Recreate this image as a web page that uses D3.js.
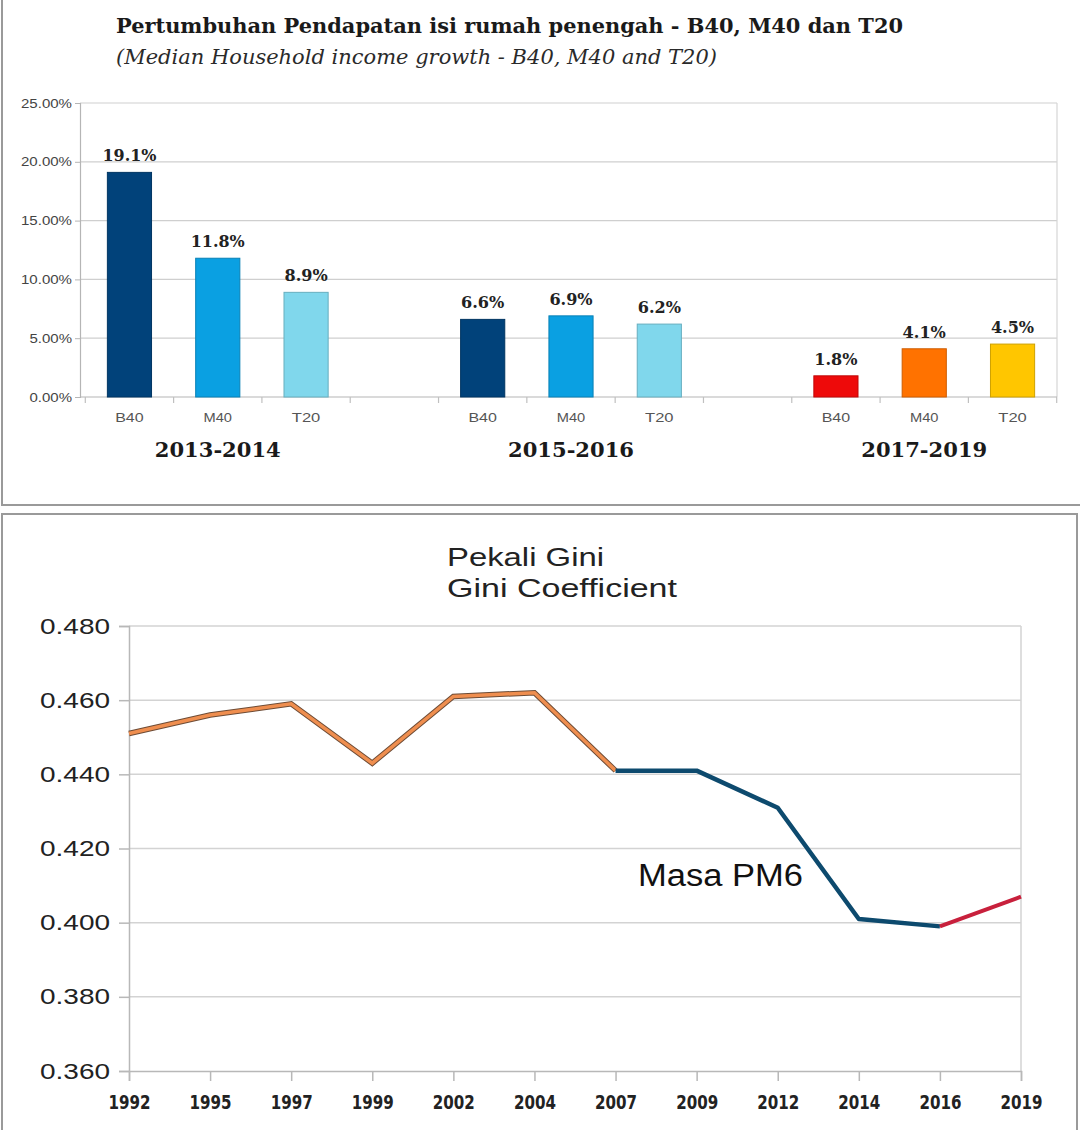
<!DOCTYPE html>
<html>
<head>
<meta charset="utf-8">
<script src="https://cdn.jsdelivr.net/npm/d3@7"></script>
<style>
  body { margin: 0; background: #fff; }
  svg { display: block; }
</style>
</head>
<body>
<svg id="chart" width="1080" height="1130"></svg>
<script>
// ---- data: household income growth (%) ----
var groups = ["B40", "M40", "T20"];
var periods = ["2013-2014", "2015-2016", "2017-2019"];
var growth20132014 = [19.1, 11.8, 8.9];
var growth20152016 = [6.6, 6.9, 6.2];
var growth20172019 = [1.8, 4.1, 4.5];
var growthTicks = [0, 5, 10, 15, 20, 25];

// ---- data: gini coefficient ----
var giniYears = ["1992", "1995", "1997", "1999", "2002", "2004", "2007", "2009", "2012", "2014", "2016", "2019"];
var giniValues = [0.451, 0.456, 0.459, 0.443, 0.461, 0.462, 0.441, 0.441, 0.431, 0.401, 0.399, 0.407];
var giniTicks = [0.36, 0.38, 0.40, 0.42, 0.44, 0.46, 0.48];

var barColors = [
  ["#01427a", "#0aa0e2", "#80d7ec"],
  ["#01427a", "#0aa0e2", "#80d7ec"],
  ["#ee0a0a", "#ff7200", "#ffc600"]
];

var svg = d3.select("#chart");
var serif = "'DejaVu Serif', 'Liberation Serif', serif";
var sans = "'Liberation Sans', Arial, sans-serif";

// the source picture is stretched sideways, so texts are widened to fit
function widen(sel, perChar) {
  sel.attr("lengthAdjust", "spacingAndGlyphs")
     .attr("textLength", function() { return this.textContent.length * perChar; });
}

// panel frames
svg.append("rect").attr("x", 2).attr("y", -4).attr("width", 1082).attr("height", 509)
   .attr("fill", "none").attr("stroke", "#9a9a9a").attr("stroke-width", 2);
svg.append("rect").attr("x", 2).attr("y", 514).attr("width", 1075).attr("height", 630)
   .attr("fill", "none").attr("stroke", "#9a9a9a").attr("stroke-width", 2);

// =============== top: bar chart ===============
var barPanel = svg.append("g");

barPanel.append("text")
   .attr("x", 116).attr("y", 33)
   .attr("font-family", serif).attr("font-weight", "bold").attr("font-size", 20.5)
   .attr("fill", "#1a1a1a")
   .attr("textLength", 787).attr("lengthAdjust", "spacingAndGlyphs")
   .text("Pertumbuhan Pendapatan isi rumah penengah - B40, M40 dan T20");
barPanel.append("text")
   .attr("x", 116).attr("y", 64)
   .attr("font-family", serif).attr("font-style", "italic").attr("font-size", 20.5)
   .attr("fill", "#2a2a2a")
   .attr("textLength", 601).attr("lengthAdjust", "spacingAndGlyphs")
   .text("(Median Household income growth - B40, M40 and T20)");

var allGrowth = [growth20132014, growth20152016, growth20172019];
var slots = [];
var bars = [];
periods.forEach(function(p, pi) {
  groups.forEach(function(g, gi) {
    var key = p + "|" + g;
    slots.push(key);
    bars.push({ key: key, period: p, group: g, value: allGrowth[pi][gi], color: barColors[pi][gi], mid: gi == 1 });
  });
  if (pi < periods.length - 1) slots.push("gap" + pi);
});

var xb = d3.scaleBand().domain(slots).range([83, 1059]).paddingInner(0.5).paddingOuter(0.276);
var yb = d3.scaleLinear().domain([0, 25]).range([397, 103]);

// gridlines
barPanel.append("g").selectAll("line").data(growthTicks.slice(1)).enter().append("line")
   .attr("x1", 80).attr("x2", 1057)
   .attr("y1", function(d) { return yb(d); }).attr("y2", function(d) { return yb(d); })
   .attr("stroke", "#cfcfcf").attr("stroke-width", 1.2);
barPanel.append("line").attr("x1", 1057).attr("x2", 1057).attr("y1", yb(25)).attr("y2", yb(0))
   .attr("stroke", "#d5d5d5").attr("stroke-width", 1.2);

var yAxisB = d3.axisLeft(yb).tickValues(growthTicks).tickSize(5).tickPadding(3)
   .tickFormat(function(d) { return d3.format(".2f")(d) + "%"; });
var gyb = barPanel.append("g").attr("transform", "translate(80,0)").call(yAxisB);
gyb.select(".domain").attr("stroke", "#b5b5b5").attr("stroke-width", 1.2);
gyb.selectAll(".tick line").attr("stroke", "#b5b5b5");
gyb.selectAll(".tick text").attr("font-family", sans).attr("font-size", 12.5).attr("fill", "#444")
   .call(widen, 8.5);

// baseline + tick marks at slot edges
barPanel.append("line").attr("x1", 80).attr("x2", 1057).attr("y1", yb(0)).attr("y2", yb(0))
   .attr("stroke", "#b5b5b5").attr("stroke-width", 1.2);
var edges = slots.map(function(s) { return xb(s) + xb.bandwidth() / 2 - xb.step() / 2; });
edges.push(xb(slots[slots.length - 1]) + xb.bandwidth() / 2 + xb.step() / 2);
barPanel.append("g").selectAll("line").data(edges).enter().append("line")
   .attr("x1", function(d) { return d; }).attr("x2", function(d) { return d; })
   .attr("y1", yb(0)).attr("y2", yb(0) + 6)
   .attr("stroke", "#c0c0c0").attr("stroke-width", 1.2);

// bars
var barG = barPanel.append("g").selectAll("g").data(bars).enter().append("g");
barG.append("rect")
   .attr("x", function(d) { return xb(d.key); })
   .attr("width", xb.bandwidth())
   .attr("y", function(d) { return yb(d.value); })
   .attr("height", function(d) { return yb(0) - yb(d.value); })
   .attr("fill", function(d) { return d.color; })
   .attr("stroke", function(d) { return d3.color(d.color).darker(0.6); })
   .attr("stroke-width", 1);
barG.append("text")
   .attr("x", function(d) { return xb(d.key) + xb.bandwidth() / 2; })
   .attr("y", function(d) { return yb(d.value) - 11; })
   .attr("text-anchor", "middle")
   .attr("font-family", serif).attr("font-weight", "bold").attr("font-size", 16)
   .attr("fill", "#222")
   .text(function(d) { return d.value.toFixed(1) + "%"; })
   .call(widen, 10.8);
barG.append("text")
   .attr("x", function(d) { return xb(d.key) + xb.bandwidth() / 2; })
   .attr("y", 422)
   .attr("text-anchor", "middle")
   .attr("font-family", sans).attr("font-size", 13).attr("fill", "#555")
   .text(function(d) { return d.group; })
   .call(widen, 9.5);
barG.filter(function(d) { return d.mid; }).append("text")
   .attr("x", function(d) { return xb(d.key) + xb.bandwidth() / 2; })
   .attr("y", 457)
   .attr("text-anchor", "middle")
   .attr("font-family", serif).attr("font-weight", "bold").attr("font-size", 20.5)
   .attr("fill", "#1a1a1a")
   .text(function(d) { return d.period; })
   .call(widen, 14);

// =============== bottom: gini line chart ===============
var giniPanel = svg.append("g");

giniPanel.append("text").attr("x", 447).attr("y", 566)
   .attr("font-family", sans).attr("font-size", 25).attr("fill", "#222")
   .attr("textLength", 157).attr("lengthAdjust", "spacingAndGlyphs")
   .text("Pekali Gini");
giniPanel.append("text").attr("x", 447).attr("y", 597)
   .attr("font-family", sans).attr("font-size", 25).attr("fill", "#222")
   .attr("textLength", 230).attr("lengthAdjust", "spacingAndGlyphs")
   .text("Gini Coefficient");

var xg = d3.scalePoint().domain(giniYears).range([129, 1021]);
var yg = d3.scaleLinear().domain([0.36, 0.48]).range([1071, 626]);

giniPanel.append("g").selectAll("line").data(giniTicks.slice(1)).enter().append("line")
   .attr("x1", 129).attr("x2", 1021)
   .attr("y1", function(d) { return yg(d); }).attr("y2", function(d) { return yg(d); })
   .attr("stroke", "#d3d3d3").attr("stroke-width", 1.5);
giniPanel.append("line").attr("x1", 1021).attr("x2", 1021).attr("y1", yg(0.48)).attr("y2", yg(0.36))
   .attr("stroke", "#d3d3d3").attr("stroke-width", 1.5);

var yAxisG = d3.axisLeft(yg).tickValues(giniTicks).tickSize(10).tickPadding(9)
   .tickFormat(d3.format(".3f"));
var gyg = giniPanel.append("g").attr("transform", "translate(129,0)").call(yAxisG);
gyg.select(".domain").attr("stroke", "#b8b8b8").attr("stroke-width", 1.5);
gyg.selectAll(".tick line").attr("stroke", "#b8b8b8").attr("stroke-width", 1.5);
gyg.selectAll(".tick text").attr("font-family", sans).attr("font-size", 22).attr("fill", "#222")
   .call(widen, 14);

var xAxisG = d3.axisBottom(xg).tickSize(10).tickPadding(14);
var gxg = giniPanel.append("g").attr("transform", "translate(0," + yg(0.36) + ")").call(xAxisG);
gxg.select(".domain").attr("stroke", "#b8b8b8").attr("stroke-width", 1.5);
gxg.selectAll(".tick line").attr("stroke", "#b8b8b8").attr("stroke-width", 1.5);
gxg.selectAll(".tick text")
   .attr("font-family", "'Liberation Sans Narrow', 'DejaVu Sans Condensed', 'Roboto', sans-serif")
   .attr("font-weight", "bold").attr("font-size", 20).attr("fill", "#222")
   .call(widen, 10.5);

var gini = giniYears.map(function(y, i) { return { year: y, v: giniValues[i] }; });
var line = d3.line().x(function(d) { return xg(d.year); }).y(function(d) { return yg(d.v); });

var orangePart = gini.slice(0, 7);
var bluePart = gini.slice(6, 11);
var redPart = gini.slice(10, 12);

giniPanel.append("path").attr("d", line(orangePart)).attr("fill", "none")
   .attr("stroke", "#6d4b35").attr("stroke-width", 5.5).attr("stroke-linejoin", "miter");
giniPanel.append("path").attr("d", line(orangePart)).attr("fill", "none")
   .attr("stroke", "#ef8e4f").attr("stroke-width", 3.5).attr("stroke-linejoin", "miter");
giniPanel.append("path").attr("d", line(bluePart)).attr("fill", "none")
   .attr("stroke", "#0d4a6e").attr("stroke-width", 4.5).attr("stroke-linejoin", "round");
giniPanel.append("path").attr("d", line(redPart)).attr("fill", "none")
   .attr("stroke", "#c8203c").attr("stroke-width", 4).attr("stroke-linejoin", "round");

giniPanel.append("text").attr("x", 638).attr("y", 886)
   .attr("font-family", sans).attr("font-size", 31).attr("fill", "#111")
   .attr("textLength", 165).attr("lengthAdjust", "spacingAndGlyphs")
   .text("Masa PM6");
</script>
</body>
</html>
